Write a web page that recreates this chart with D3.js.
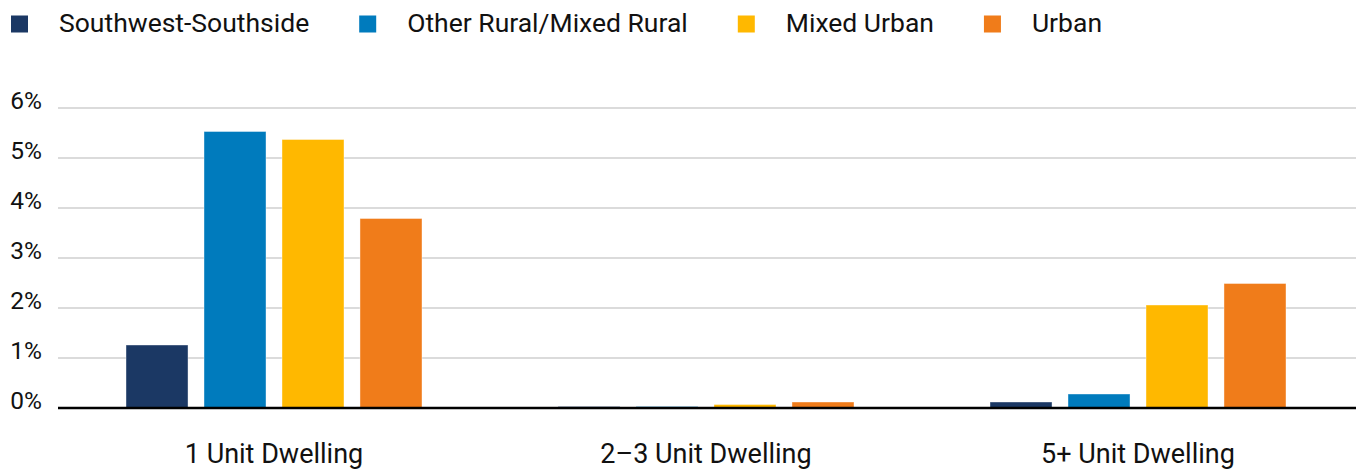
<!DOCTYPE html>
<html>
<head>
<meta charset="utf-8">
<script src="https://cdn.jsdelivr.net/npm/d3@7"></script>
<style>
  html, body { margin: 0; padding: 0; background: #fff; }
  svg { display: block; font-family: Roboto, "Noto Sans", sans-serif; }
</style>
</head>
<body>
<svg id="chart" width="1356" height="469"></svg>
<script>
// Dwelling types along the x axis
const categories = ["1 Unit Dwelling", "2\u20133 Unit Dwelling", "5+ Unit Dwelling"];
// Region groups (one bar each per dwelling type)
const seriesNames = ["Southwest-Southside", "Other Rural/Mixed Rural", "Mixed Urban", "Urban"];
const seriesColors = ["#1b3864", "#007bbd", "#ffb800", "#f07c1a"];
// Share of housing units, in percent, per dwelling type
const southwestSouthside = [1.26, 0.03, 0.12];
const otherRural = [5.53, 0.03, 0.28];
const mixedUrban = [5.37, 0.07, 2.06];
const urban = [3.79, 0.12, 2.49];
const yTicks = [0, 1, 2, 3, 4, 5, 6];

const seriesValues = [southwestSouthside, otherRural, mixedUrban, urban];
const table = categories.map((c, i) => ({
  category: c,
  values: seriesNames.map((s, j) => ({ series: s, value: seriesValues[j][i], idx: j }))
}));

const svg = d3.select("#chart");
const W = 1356;
const plotLeft = 58, plotRight = 1354, plotTop = 108, plotBottom = 408;

const x0 = d3.scaleBand().domain(categories).range([plotLeft, plotRight]).paddingInner(0).paddingOuter(0);
const x1 = d3.scaleBand().domain(seriesNames).range([0, x0.bandwidth()])
  .paddingInner(0.205).paddingOuter(0.872);
const y = d3.scaleLinear().domain([0, 6]).range([plotBottom, plotTop]);
const color = d3.scaleOrdinal().domain(seriesNames).range(seriesColors);

// Horizontal gridlines
svg.append("g")
  .selectAll("line")
  .data(yTicks.filter(t => t > 0))
  .join("line")
  .attr("x1", plotLeft).attr("x2", W)
  .attr("y1", d => y(d)).attr("y2", d => y(d))
  .attr("stroke", "#cfcfcf").attr("stroke-width", 1.5);

// Y tick labels, sitting on their gridlines
const yAxis = d3.axisLeft(y).tickValues(yTicks).tickFormat(d => d + "%").tickSize(0).tickPadding(0);
const yg = svg.append("g").attr("transform", "translate(42,0)").call(yAxis);
yg.select(".domain").remove();
yg.selectAll("text")
  .attr("dy", "0")
  .attr("y", 0)
  .attr("font-size", 24.5)
  .attr("font-family", "Roboto, sans-serif")
  .attr("fill", "#111");

// Bars
const groups = svg.append("g")
  .selectAll("g")
  .data(table)
  .join("g")
  .attr("transform", d => `translate(${x0(d.category)},0)`);

groups.selectAll("rect")
  .data(d => d.values)
  .join("rect")
  .attr("x", d => x1(d.series))
  .attr("width", x1.bandwidth())
  .attr("y", d => y(d.value))
  .attr("height", d => y(0) - y(d.value))
  .attr("fill", d => color(d.series))
  .attr("stroke", "#ffffff")
  .attr("stroke-opacity", 0.5)
  .attr("stroke-width", 0.8);

// Baseline
svg.append("line")
  .attr("x1", plotLeft).attr("x2", W)
  .attr("y1", y(0)).attr("y2", y(0))
  .attr("stroke", "#000").attr("stroke-width", 2.5);

// Category labels
const xAxis = d3.axisBottom(x0).tickSize(0).tickPadding(0);
const xg = svg.append("g").attr("transform", "translate(0,463)").call(xAxis);
xg.select(".domain").remove();
xg.selectAll("text")
  .attr("dy", "0").attr("y", 0)
  .attr("font-size", 27)
  .attr("font-family", "Roboto, sans-serif")
  .attr("fill", "#111");

// Legend laid out in a single row
const legend = svg.append("g");
let lx = 11;
seriesNames.forEach((s, i) => {
  legend.append("rect")
    .attr("x", lx).attr("y", 15.5)
    .attr("width", 17).attr("height", 17)
    .attr("fill", color(s));
  const t = legend.append("text")
    .attr("x", lx + 48).attr("y", 32)
    .attr("font-size", 26.5)
    .attr("fill", "#111")
    .text(s);
  lx = lx + 48 + t.node().getComputedTextLength() + 50;
});
</script>
</body>
</html>
